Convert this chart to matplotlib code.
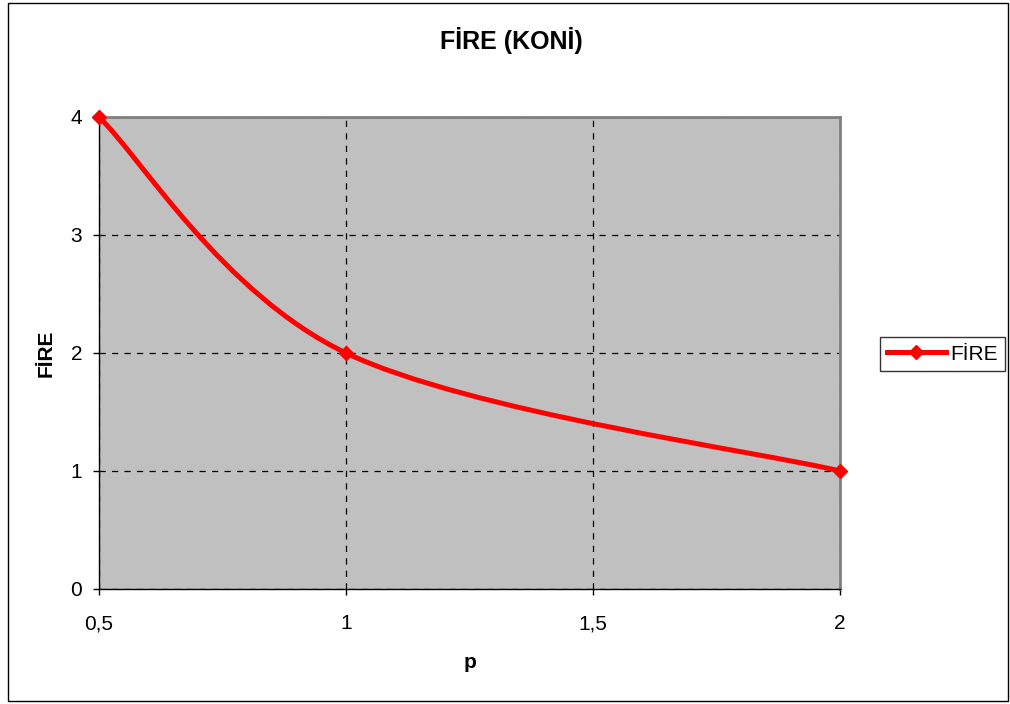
import matplotlib
matplotlib.use("Agg")
import matplotlib.pyplot as plt
from matplotlib.path import Path
from matplotlib.patches import PathPatch, Rectangle
from matplotlib.lines import Line2D

# Veriler
p_degerleri = [0.5, 1, 2]
fire_degerleri = [4, 2, 1]
x_ticks = [0.5, 1, 1.5, 2]
x_etiketleri = ["0,5", "1", "1,5", "2"]
y_ticks = [0, 1, 2, 3, 4]

plt.rcParams["font.family"] = ["Liberation Sans", "DejaVu Sans"]


def bezier_yolu(xs, ys):
    """Excel tarzı yumuşatılmış çizgi için Bezier yolu (noktalar arasından geçer)"""
    pts = list(zip(xs, ys))
    n = len(pts)
    verts = [pts[0]]
    codes = [Path.MOVETO]
    for i in range(n - 1):
        p0 = pts[i - 1] if i > 0 else pts[i]
        p1 = pts[i]
        p2 = pts[i + 1]
        p3 = pts[i + 2] if i + 2 < n else pts[i + 1]
        c1 = (p1[0] + (p2[0] - p0[0]) / 6, p1[1] + (p2[1] - p0[1]) / 6)
        c2 = (p2[0] - (p3[0] - p1[0]) / 6, p2[1] - (p3[1] - p1[1]) / 6)
        verts += [c1, c2, p2]
        codes += [Path.CURVE4] * 3
    return Path(verts, codes)


fig = plt.figure(figsize=(10.1, 7.04), dpi=100)
ax = fig.add_axes([99 / 1010, 1 - 589 / 704, 741 / 1010, 472 / 704])
ax.set_facecolor("#C0C0C0")

# yumuşatılmış çizgi ve işaretler
ax.add_patch(PathPatch(bezier_yolu(p_degerleri, fire_degerleri), facecolor="none",
                       edgecolor="red", lw=3.6, capstyle="round", joinstyle="round",
                       clip_on=False, zorder=3))
ax.plot(p_degerleri, fire_degerleri, linestyle="none", marker="D", ms=7.5,
        color="red", clip_on=False, zorder=4)

ax.set_xlim(0.5, 2)
ax.set_ylim(0, 4)
ax.set_xticks(x_ticks)
ax.set_xticklabels(x_etiketleri)
ax.set_yticks(y_ticks)
ax.tick_params(axis="both", direction="out", length=4, width=1, labelsize=15,
               colors="black")
ax.tick_params(axis="x", pad=14)
ax.tick_params(axis="y", pad=8)

ax.grid(True, color="black", linestyle=(0, (5, 5)), linewidth=0.9)
ax.set_axisbelow(True)

for s in ["left", "bottom"]:
    ax.spines[s].set_color("black")
    ax.spines[s].set_linewidth(1)
for s in ["top", "right"]:
    ax.spines[s].set_color("#808080")
    ax.spines[s].set_linewidth(2)

fig.text(511 / 1010, 1 - 41 / 704, "FİRE (KONİ)", ha="center", va="center",
         fontsize=18, fontweight="bold")
fig.text(46 / 1010, 1 - 353 / 704, "FİRE", ha="center", va="center",
         fontsize=15, fontweight="bold", rotation=90)
fig.text(470 / 1010, 1 - 662 / 704, "p", ha="center", va="center",
         fontsize=15, fontweight="bold")

# lejant
tutucu = Line2D([], [], color="red", lw=3.6, marker="D", ms=7.5)
leg = fig.legend([tutucu], ["FİRE"], loc="center left",
                 bbox_to_anchor=(880 / 1010, 1 - 354 / 704), fontsize=15,
                 frameon=True, fancybox=False, edgecolor="black",
                 handlelength=2.8, handletextpad=0.2, borderpad=0.35,
                 borderaxespad=0)
leg.get_frame().set_linewidth(1)

# dış çerçeve
fig.patches.append(Rectangle((8 / 1010, 3 / 704), 1000 / 1010, 698 / 704,
                             transform=fig.transFigure, fill=False,
                             edgecolor="black", lw=1))

fig.savefig("out.png", dpi=100)
